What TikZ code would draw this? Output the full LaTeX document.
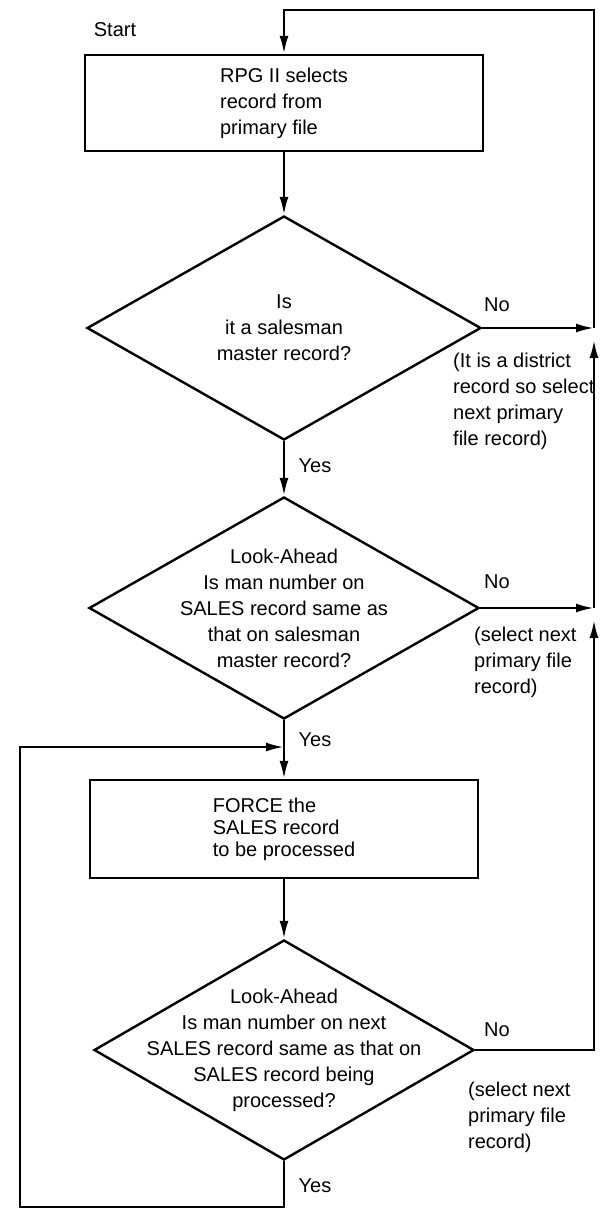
\documentclass[tikz,border=0pt]{standalone}
\usepackage{fontspec}
\setmainfont{Liberation Sans}
\usetikzlibrary{shapes.geometric,arrows.meta}

\begin{document}
\begin{tikzpicture}[
  x=0.5pt, y=-0.5pt,
  box/.style={draw, line width=1.2pt, minimum width=199pt, minimum height=48pt, align=left, inner sep=0pt},
  dec/.style={draw, diamond, line width=1.2pt, aspect=1.75, inner sep=-14pt, align=center},
  lbl/.style={inner sep=0pt},
  line width=1.2pt,
  >={Latex[length=9pt,width=4.5pt]},
  font=\fontsize{10}{13}\selectfont,
]
\useasboundingbox (0,0) rectangle (600,1211);

% ---- main column ----
\node[lbl] (start) at (115,30) {Start};
\node[box] (b1) at (284,103) {RPG II selects\\record from\\primary file};
\node[dec, minimum width=197pt, minimum height=112pt] (d1) at (284,328) {Is\\it a salesman\\master record?};
\node[dec, minimum width=195pt, minimum height=111pt] (d2) at (284,608) {Look-Ahead\\Is man number on\\SALES record same as\\that on salesman\\master record?};
\node[box, minimum width=194pt, minimum height=49pt, font=\fontsize{10}{11}\selectfont] (b2) at (284,829) {FORCE the\\SALES record\\to be processed};
\node[dec, minimum width=190pt, minimum height=110pt] (d3) at (284,1050) {Look-Ahead\\Is man number on next\\SALES record same as that on\\SALES record being\\processed?};

\draw[->] (b1.south) -- (d1.north);
\draw[->] (d1.south) -- (d2.north);
\draw[->] (d2.south) -- (b2.north);
\draw[->] (b2.south) -- (d3.north);

% ---- right return line (No branches) ----
\coordinate (rt) at (594,10);
\coordinate (j1) at (d1.east -| rt);
\coordinate (j2) at (d2.east -| rt);
\coordinate (j3) at (d3.east -| rt);
\draw[->] (d1.east) -- (j1);
\draw[->] (d2.east) -- (j2);
\draw[->] (d3.east) -- (j3) -- ([yshift=-6pt]j2);
\draw[->] (j2) -- ([yshift=-6pt]j1);
\draw[->] (j1) -- (rt) -| (b1.north);

% ---- left loop (Yes of last test) ----
\coordinate (lb) at (20,1207);
\coordinate (lj) at (284,747);
\draw[->] (d3.south) |- (lb) |- (lj);

% ---- labels ----
\node[lbl] (no1) at (497,305) {No};
\node[lbl, anchor=west, align=left] (n1) at (452,401) {(It is a district\\record so select\\next primary\\file record)};
\node[lbl] (yes1) at (315,466) {Yes};
\node[lbl] (no2) at (497,582) {No};
\node[lbl, anchor=west, align=left] (n2) at (473,662) {(select next\\primary file\\record)};
\node[lbl] (yes2) at (315,740) {Yes};
\node[lbl] (no3) at (497,1030) {No};
\node[lbl, anchor=west, align=left] (n3) at (467,1117) {(select next\\primary file\\record)};
\node[lbl] (yes3) at (315,1186) {Yes};
\end{tikzpicture}
\end{document}
